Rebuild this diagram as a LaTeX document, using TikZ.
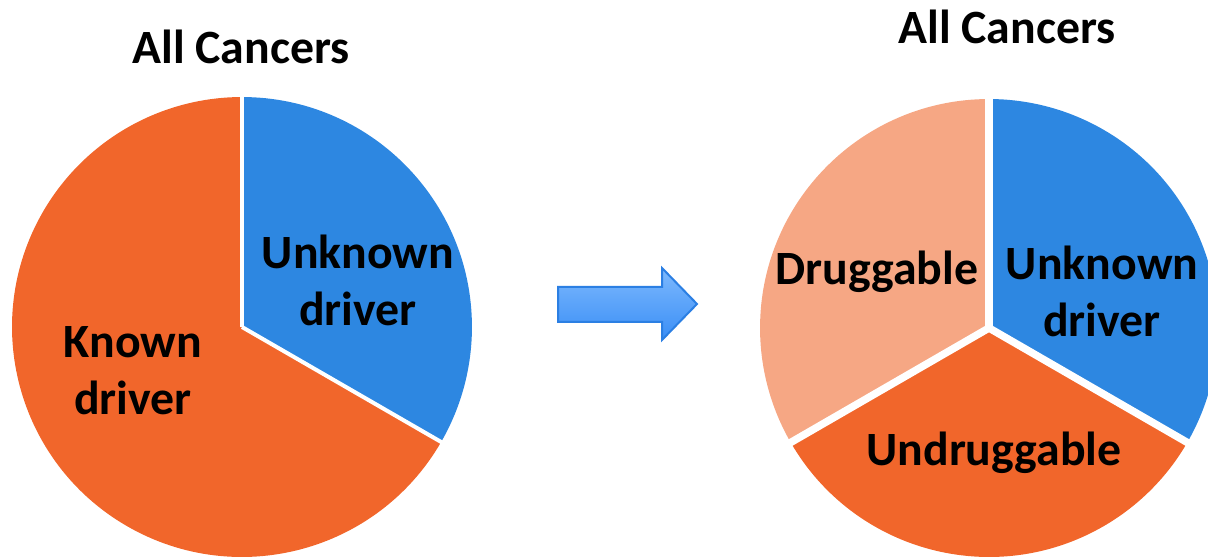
\documentclass[tikz,border=0pt]{standalone}
\usepackage{fontspec}
\setmainfont{Carlito}
\usetikzlibrary{positioning, calc}

\definecolor{sliceblue}{HTML}{2D87E1}
\definecolor{sliceorange}{HTML}{F1662B}
\definecolor{slicepeach}{HTML}{F6A784}
\definecolor{arrowtop}{HTML}{7DB9FD}
\definecolor{arrowbot}{HTML}{3A8EF6}
\definecolor{arrowedge}{HTML}{2B7FE3}

\begin{document}
\begin{tikzpicture}[
		x=0.02cm, y=0.02cm,
		font=\fontsize{27.2}{32.5}\selectfont\bfseries,
		title/.style={inner sep=0pt},
		lbl/.style={align=center, inner sep=0pt, text=black},
		]
		\useasboundingbox (0,0) rectangle (1208,557);
		
		% 1. Left pie
		\coordinate (lc) at (242,230);
		\fill[sliceorange] (lc) -- ++(-30:4.6cm) arc[start angle=-30, end angle=-270, radius=4.6cm] -- cycle;
		\fill[sliceblue] (lc) -- ++(90:4.6cm) arc[start angle=90, end angle=-30, radius=4.6cm] -- cycle;
		\draw[white, line width=0.08cm] (lc) -- ++(90:4.7cm);
		\draw[white, line width=0.08cm] (lc) -- ++(-30:4.7cm);
		\node[title] (ltitle) at (241,510) {All Cancers};
		\node[lbl] (lunknown) at (358,277) {Unknown\\driver};
		\node[lbl] (lknown) at (133,186) {Known\\driver};
		
		% 2. Arrow
		\shade[top color=arrowtop, bottom color=arrowbot, draw=arrowedge, line width=0.04cm]
			(558,270) -- (662,270) -- (662,289) -- (697,253) -- (662,217) -- (662,235) -- (558,235) -- cycle;
		
		% 3. Right pie
		\coordinate (rc) at (989,229);
		\fill[slicepeach] (rc) -- ++(90:4.58cm) arc[start angle=90, end angle=210, radius=4.58cm] -- cycle;
		\fill[sliceorange] (rc) -- ++(210:4.58cm) arc[start angle=210, end angle=330, radius=4.58cm] -- cycle;
		\fill[sliceblue] (rc) -- ++(-30:4.58cm) arc[start angle=-30, end angle=90, radius=4.58cm] -- cycle;
		\foreach \a in {90,210,330}
			\draw[white, line width=0.15cm] (rc) -- ++(\a:4.7cm);
		\node[title] (rtitle) at (1007,530) {All Cancers};
		\node[lbl] (drug) at (877,285) {Druggable};
		\node[lbl] (runknown) at (1102,266) {Unknown\\driver};
		\node[lbl] (undrug) at (994,104) {Undruggable};
	\end{tikzpicture}
\end{document}
